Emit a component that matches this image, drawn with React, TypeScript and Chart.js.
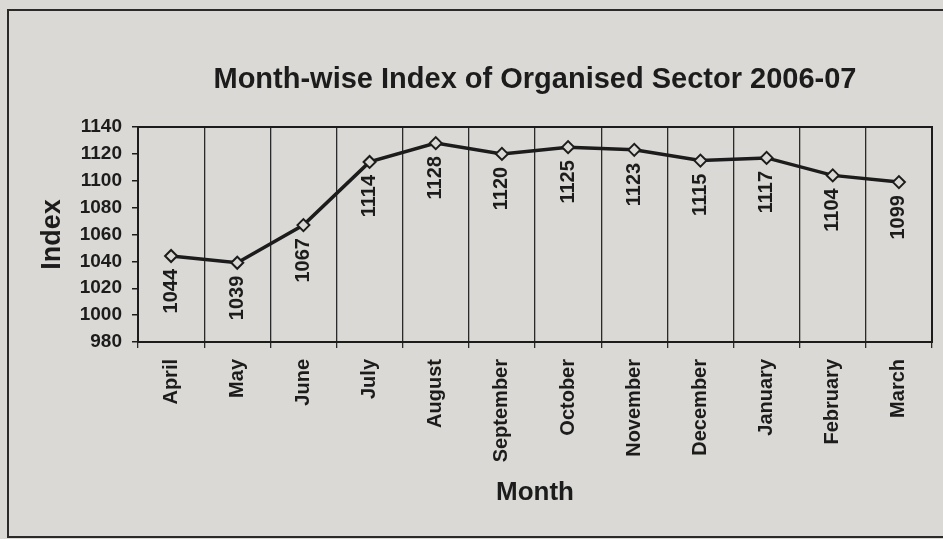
import React, { useEffect, useRef } from "react";
import { Chart, registerables } from "chart.js";

Chart.register(...registerables);

const months = ["April", "May", "June", "July", "August", "September", "October", "November", "December", "January", "February", "March"];
const indexValues = [1044, 1039, 1067, 1114, 1128, 1120, 1125, 1123, 1115, 1117, 1104, 1099];
const yMin = 980;
const yMax = 1140;
const yStep = 20;
const titleText = "Month-wise Index of Organised Sector 2006-07";
const xTitle = "Month";
const yTitle = "Index";

const INK = "#1c1c1c";
const PAPER = "#dad9d5";
const FONT = "'Liberation Sans', Arial, sans-serif";

const paperPlugin = {
  id: "paper",
  beforeDraw(chart: any) {
    const { ctx, width, height } = chart;
    ctx.save();
    ctx.fillStyle = PAPER;
    ctx.fillRect(0, 0, width, height);
    ctx.strokeStyle = "#2a2a2a";
    ctx.lineWidth = 2;
    ctx.beginPath();
    ctx.moveTo(width + 2, 10);
    ctx.lineTo(8, 10);
    ctx.lineTo(8, 537);
    ctx.lineTo(width + 2, 537);
    ctx.stroke();
    ctx.restore();
  },
  afterDraw(chart: any) {
    const { ctx, chartArea } = chart;
    ctx.save();
    ctx.strokeStyle = INK;
    ctx.lineWidth = 2;
    ctx.strokeRect(chartArea.left, chartArea.top, chartArea.right - chartArea.left, chartArea.bottom - chartArea.top);
    const meta = chart.getDatasetMeta(0);
    ctx.fillStyle = INK;
    ctx.font = `bold 20px ${FONT}`;
    ctx.textAlign = "right";
    ctx.textBaseline = "middle";
    meta.data.forEach((pt: any, i: number) => {
      ctx.save();
      ctx.translate(pt.x, pt.y + 13);
      ctx.rotate(-Math.PI / 2);
      ctx.fillText(String(indexValues[i]), 0, 0);
      ctx.restore();
    });
    ctx.restore();
  },
};

export default function App() {
  const ref = useRef<HTMLCanvasElement | null>(null);
  useEffect(() => {
    document.body.style.margin = "0";
    const chart = new Chart(ref.current as HTMLCanvasElement, {
      type: "line",
      data: {
        labels: months,
        datasets: [
          {
            data: indexValues,
            borderColor: INK,
            borderWidth: 3.5,
            pointStyle: "rectRot",
            pointRadius: 6,
            pointBackgroundColor: PAPER,
            pointBorderColor: INK,
            pointBorderWidth: 2,
            tension: 0,
          },
        ],
      },
      options: {
        responsive: false,
        animation: false,
        layout: { padding: { top: 0, left: 30, right: 11, bottom: 20 } },
        plugins: {
          legend: { display: false },
          tooltip: { enabled: false },
          title: {
            display: true,
            text: titleText,
            fullSize: false,
            color: INK,
            font: { family: FONT, size: 29, weight: "bold" },
            padding: { top: 63, bottom: 29.2 },
          },
        },
        scales: {
          x: {
            offset: true,
            grid: { display: true, offset: true, drawOnChartArea: true, drawTicks: true, tickLength: 6, color: "#2a2a2a", lineWidth: 1.3 },
            border: { display: true, color: INK, width: 2 },
            ticks: { minRotation: 90, maxRotation: 90, autoSkip: false, padding: 11, color: INK, font: { family: FONT, size: 20, weight: "bold" } },
            title: { display: true, text: xTitle, color: INK, font: { family: FONT, size: 26, weight: "bold" }, padding: { top: 0, bottom: 11 } },
            afterFit: (scale: any) => { scale.height = 177; },
          },
          y: {
            min: yMin,
            max: yMax,
            grid: { display: true, drawOnChartArea: false, drawTicks: true, tickLength: 6, color: INK, lineWidth: 1.5 },
            border: { display: true, color: INK, width: 2 },
            ticks: {
              stepSize: yStep,
              padding: 10,
              color: INK,
              font: { family: FONT, size: 19, weight: "bold" },
              callback: (v: any) => String(v),
            },
            title: { display: true, text: yTitle, color: INK, font: { family: FONT, size: 27, weight: "bold" }, padding: { top: 6, bottom: 0 } },
            afterFit: (scale: any) => { scale.width = 108; },
          },
        },
      },
      plugins: [paperPlugin],
    });
    return () => chart.destroy();
  }, []);
  return (
    <div style={{ position: "fixed", left: 0, top: 0, width: 943, height: 539 }}>
      <canvas ref={ref} width={943} height={539} style={{ display: "block" }} />
    </div>
  );
}
